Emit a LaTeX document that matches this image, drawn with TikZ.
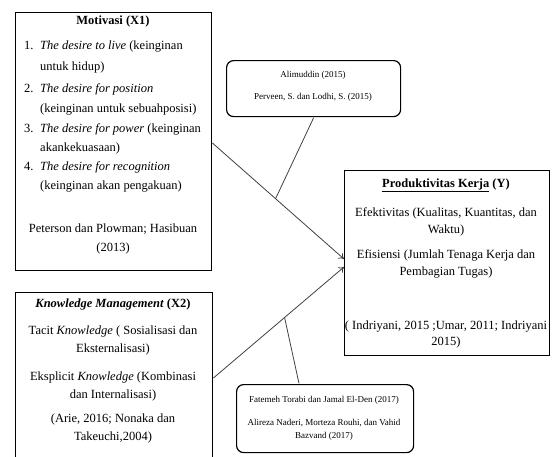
\documentclass[tikz,border=0pt]{standalone}
\usepackage{fontspec}
\setmainfont{Liberation Serif}
\usetikzlibrary{calc,arrows.meta}
\begin{document}
\begin{tikzpicture}[x=1pt,y=-1pt,
 frame/.style={draw=black,line width=1.4pt,anchor=north west,inner sep=0pt},
 rbox/.style={draw=black,line width=1.2pt,rounded corners=7pt,anchor=north west,inner sep=0pt},
 txt/.style={font=\fontsize{12.5}{14}\selectfont,inner sep=0pt,anchor=mid},
 btxt/.style={txt,font=\fontsize{12.5}{14}\selectfont\bfseries},
 ltxt/.style={txt,anchor=mid west},
 small/.style={font=\fontsize{9}{10}\selectfont,inner sep=0pt,anchor=mid},
 conn/.style={draw=black!75,line width=0.8pt},
 arr/.style={conn,-{To[length=5pt,width=7pt]}}]
\useasboundingbox (0,0) rectangle (554,456);
\clip (0,0) rectangle (554,456);
% frames
\node[frame,minimum width=196pt,minimum height=258pt] (mot) at (15,12) {};
\node[frame,minimum width=197pt,minimum height=200pt] (km) at (15,292) {};
\node[rbox,minimum width=174pt,minimum height=56pt] (tb) at (226,60) {};
\node[frame,minimum width=205pt,minimum height=185pt] (prod) at (344,170) {};
\node[rbox,minimum width=177pt,minimum height=68pt] (bb) at (236,384) {};
% Motivasi text
\node[btxt] (mt) at (113,22) {Motivasi (X1)};
\node[ltxt] (m1n) at (24,47) {1.};
\node[ltxt] (m1) at (40,47) {\textit{The desire to live} (keinginan};
\node[ltxt] (m1b) at (40,68) {untuk hidup)};
\node[ltxt] (m2n) at (24,90) {2.};
\node[ltxt] (m2) at (40,90) {\textit{The desire for position}};
\node[ltxt] (m2b) at (40,110) {(keinginan untuk sebuahposisi)};
\node[ltxt] (m3n) at (24,130) {3.};
\node[ltxt] (m3) at (40,130) {\textit{The desire for power} (keinginan};
\node[ltxt] (m3b) at (40,149) {akankekuasaan)};
\node[ltxt] (m4n) at (24,168) {4.};
\node[ltxt] (m4) at (40,168) {\textit{The desire for recognition}};
\node[ltxt] (m4b) at (40,187) {(keinginan akan pengakuan)};
\node[txt] (mr1) at (113,230) {Peterson dan Plowman; Hasibuan};
\node[txt] (mr2) at (113,249) {(2013)};
% Knowledge text
\node[btxt] (kt) at (113,305) {\textit{Knowledge Management} (X2)};
\node[txt] (k1) at (113,332) {Tacit \textit{Knowledge} ( Sosialisasi dan};
\node[txt] (k1b) at (113,350) {Eksternalisasi)};
\node[txt] (k2) at (113,378) {Eksplicit \textit{Knowledge} (Kombinasi};
\node[txt] (k2b) at (113,396) {dan Internalisasi)};
\node[txt] (k3) at (113,420) {(Arie, 2016; Nonaka dan};
\node[txt] (k3b) at (113,438) {Takeuchi,2004)};
% top small box text
\node[small] (t1) at (313,75) {Alimuddin (2015)};
\node[small] (t2) at (313,97) {Perveen, S. dan Lodhi, S. (2015)};
% Produktivitas text
\node[btxt] (pt) at (446,185) {\underline{Produktivitas Kerja} (Y)};
\node[txt] (p1) at (446,214) {Efektivitas (Kualitas, Kuantitas, dan};
\node[txt] (p1b) at (446,231) {Waktu)};
\node[txt] (p2) at (446,256) {Efisiensi (Jumlah Tenaga Kerja dan};
\node[txt] (p2b) at (446,273) {Pembagian Tugas)};
\node[txt] (p3) at (446,327) {( Indriyani, 2015 ;Umar, 2011; Indriyani};
\node[txt] (p3b) at (446,343) {2015)};
% bottom small box text
\node[small] (b1) at (324,400) {Fatemeh Torabi dan Jamal El-Den (2017)};
\node[small] (b2) at (324,423) {Alireza Naderi, Morteza Rouhi, dan Vahid};
\node[small] (b2b) at (324,436) {Bazvand (2017)};
% arrows
\coordinate (a1s) at ($(mot.north east)+(0,131)$);
\coordinate (a1e) at ($(prod.north west)+(0,89)$);
\coordinate (a2s) at ($(km.north east)+(0,86)$);
\coordinate (a2e) at ($(prod.north west)+(0,97)$);
\draw[arr] (a1s) -- (a1e);
\draw[arr] (a2s) -- (a2e);
\coordinate (c1) at ($(a1s)!0.48!(a1e)$);
\coordinate (c2) at ($(a2s)!0.545!(a2e)$);
\draw[conn] ($(tb.south)+(0,0.6)$) -- (c1);
\draw[conn] ($(bb.north west)+(63,-0.6)$) -- (c2);
\end{tikzpicture}
\end{document}
